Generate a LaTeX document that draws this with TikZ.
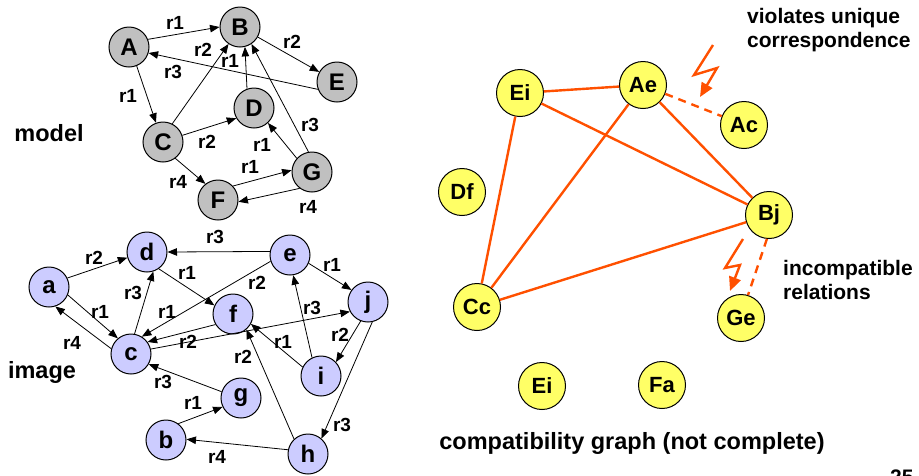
\documentclass[tikz,border=0pt]{standalone}
\usepackage{fontspec}
\setmainfont{Liberation Sans}
\usetikzlibrary{arrows.meta}
\definecolor{mgray}{RGB}{192,192,192}
\definecolor{ilav}{RGB}{204,204,255}
\definecolor{cyel}{RGB}{255,255,102}
\definecolor{orng}{RGB}{255,80,0}
\begin{document}
\begin{tikzpicture}[x=1pt,y=-1pt,
  mnode/.style={circle,draw=black,line width=1pt,fill=mgray,minimum size=40pt,inner sep=0pt,font=\fontsize{24}{24}\selectfont\bfseries},
  inode/.style={mnode,fill=ilav},
  cnode/.style={mnode,fill=cyel,minimum size=47pt,font=\fontsize{22}{22}\selectfont\bfseries},
  arr/.style={draw=black,line width=0.8pt,-{Triangle[length=9.5pt,width=7.5pt]}},
  lbl/.style={inner sep=0pt,font=\fontsize{19}{19}\selectfont\bfseries},
  txt/.style={inner sep=0pt,font=\fontsize{21}{24}\selectfont\bfseries,align=left},
  bigtxt/.style={txt,font=\fontsize{23.5}{26}\selectfont\bfseries},
  oline/.style={draw=orng,line width=2.4pt},
  odash/.style={oline,dash pattern=on 8pt off 6pt},
  bolt/.style={draw=orng,line width=2.4pt,line join=miter,-{Triangle[length=14pt,width=12pt]}}
]
\useasboundingbox (0,0) rectangle (919,475);

% ---------- model graph ----------
\node[mnode] (A) at (129,47) {A};
\node[mnode] (B) at (240,27) {B};
\node[mnode] (E) at (337,82) {E};
\node[mnode] (D) at (254,108) {D};
\node[mnode] (C) at (163,142) {C};
\node[mnode] (G) at (312,172) {G};
\node[mnode] (F) at (218,200) {F};

\draw[arr] (A.22) -- (B.180);
\draw[arr] (A.-68) -- (C.110);
\draw[arr] (B) -- (E);
\draw[arr] (E.201) -- (A.-17);
\draw[arr] (C.63) -- (B.236);
\draw[arr] (D.110) -- (B.-76);
\draw[arr] (C.19) -- (D.210);
\draw[arr] (C.-53) -- (F.128);
\draw[arr] (G.100) -- (B.-56);
\draw[arr] (G.138) -- (D.-47);
\draw[arr] (F.43) -- (G.175);
\draw[arr] (G.233) -- (F.-5);

\node[lbl] (lAB) at (175,23) {r1};
\node[lbl] (lBE) at (292,42) {r2};
\node[lbl] (lEA) at (173,72) {r3};
\node[lbl] (lCB) at (203,50) {r2};
\node[lbl] (lDB) at (230,61) {r1};
\node[lbl] (lAC) at (128,96) {r1};
\node[lbl] (lCD) at (207,142) {r2};
\node[lbl] (lGB) at (310,125) {r3};
\node[lbl] (lGD) at (262,145) {r1};
\node[lbl] (lFG) at (250,167) {r1};
\node[lbl] (lCF) at (178,182) {r4};
\node[lbl] (lGF) at (308,207) {r4};

\node[bigtxt] (model) at (49,133) {model};

% ---------- image graph ----------
\node[inode] (a) at (49,287) {a};
\node[inode] (d) at (147,252) {d};
\node[inode] (c) at (131,354) {c};
\node[inode] (b) at (166,440) {b};
\node[inode] (e) at (290,255) {e};
\node[inode] (j) at (368,302) {j};
\node[inode] (f) at (233,314) {f};
\node[inode] (i) at (321,376) {i};
\node[inode] (g) at (241,398) {g};
\node[inode] (h) at (308,454) {h};

\draw[arr] (a.26) -- (d.196);
\draw[arr] (a.-23) -- (c.130);
\draw[arr] (c.165) -- (a.-72);
\draw[arr] (c.80) -- (d.-72);
\draw[arr] (d.-55) -- (f.155);
\draw[arr] (e.170) -- (d.0);
\draw[arr] (e.198) -- (c.58);
\draw[arr] (f.211) -- (c.36);
\draw[arr] (c.14) -- (j.208);
\draw[arr] (i.154) -- (f.-29);
\draw[arr] (i.116) -- (e.-81);
\draw[arr] (e.-24) -- (j.144);
\draw[arr] (j.249) -- (i.43);
\draw[arr] (j.-78) -- (h.49);
\draw[arr] (h.133) -- (f.-49);
\draw[arr] (h.168) -- (b.2);
\draw[arr] (b.53) -- (g.206);
\draw[arr] (g.162) -- (c.-30);

\node[lbl] (lad) at (94,258) {r2};
\node[lbl] (lac) at (100,312) {r1};
\node[lbl] (lca) at (72,343) {r4};
\node[lbl] (lcd) at (133,293) {r3};
\node[lbl] (lgc) at (163,382) {r3};
\node[lbl] (lbg) at (193,403) {r1};
\node[lbl] (lhb) at (217,457) {r4};
\node[lbl] (led) at (215,237) {r3};
\node[lbl] (ldf) at (187,273) {r1};
\node[lbl] (lec) at (257,283) {r2};
\node[lbl] (lfc) at (167,312) {r1};
\node[lbl] (lcj) at (188,342) {r2};
\node[lbl] (lhf) at (243,357) {r2};
\node[lbl] (lej) at (332,265) {r1};
\node[lbl] (lie) at (312,308) {r3};
\node[lbl] (lif) at (283,342) {r1};
\node[lbl] (lji) at (340,335) {r2};
\node[lbl] (ljh) at (342,425) {r3};

\node[bigtxt] (image) at (42,372) {image};

% ---------- compatibility graph ----------
\node[cnode] (Ei) at (520,93) {Ei};
\node[cnode] (Ae) at (643,85) {Ae};
\node[cnode] (Ac) at (744,125) {Ac};
\node[cnode] (Df) at (462,192) {Df};
\node[cnode] (Bj) at (769,215) {Bj};
\node[cnode] (Cc) at (477,307) {Cc};
\node[cnode] (Ge) at (741,318) {Ge};
\node[cnode] (Eib) at (542,386) {Ei};
\node[cnode] (Fa) at (662,385) {Fa};

\draw[oline] (Ei) -- (Ae);
\draw[oline] (Ei) -- (Bj);
\draw[oline] (Ei) -- (Cc);
\draw[oline] (Ae) -- (Cc);
\draw[oline] (Ae) -- (Bj);
\draw[oline] (Cc) -- (Bj);
\draw[odash] (Ae) -- (Ac);
\draw[odash] (Bj.-95) -- (Ge.73);

\coordinate (b1a) at (713,45);
\coordinate (b1b) at (694,75);
\coordinate (b1c) at (717,68);
\coordinate (b1d) at (700,97);
\draw[bolt] (b1a) -- (b1b) -- (b1c) -- (b1d);
\coordinate (b2a) at (743,239);
\coordinate (b2b) at (725,268);
\coordinate (b2c) at (740,265);
\coordinate (b2d) at (730,291);
\draw[bolt] (b2a) -- (b2b) -- (b2c) -- (b2d);

\node[txt,anchor=west] (viol) at (747,30) {violates unique\\correspondence};
\node[txt,anchor=west] (incomp) at (783,280) {incompatible\\relations};
\node[bigtxt] (caption) at (632,443) {compatibility graph (not complete)};
\node[txt,anchor=north west] (pgnum) at (890,470) {25};
\end{tikzpicture}
\end{document}
